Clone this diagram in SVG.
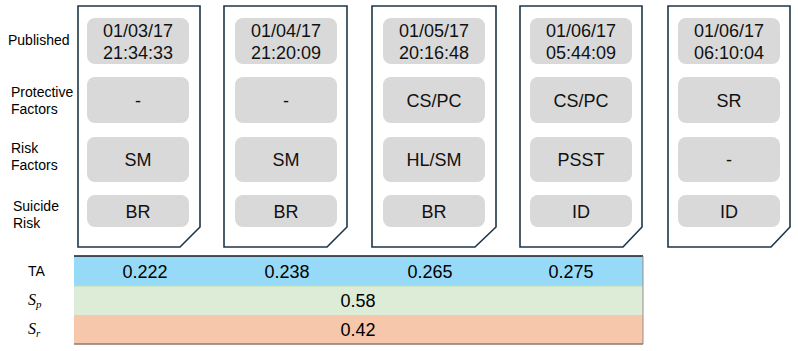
<svg xmlns="http://www.w3.org/2000/svg" width="798" height="351" viewBox="0 0 798 351">
<style>
.card{fill:#fff;stroke:#1e3648;stroke-width:1.6}
.box{fill:#d9d9d9}
.v{font-family:"Liberation Sans",Arial,sans-serif;font-size:18px;fill:#111;text-anchor:middle}
.lab{font-family:"Liberation Sans",Arial,sans-serif;font-size:14px;fill:#000}
.num{font-family:"Liberation Sans",Arial,sans-serif;font-size:18px;fill:#000;text-anchor:middle}
.math{font-family:"Liberation Serif","Times New Roman",serif;font-style:italic;font-size:16px;fill:#000}
</style>
<defs>
<g id="rows">
<rect class="box" x="0" y="18" width="102" height="46" rx="8"/>
<rect class="box" x="0" y="77" width="102" height="46" rx="8"/>
<rect class="box" x="0" y="137" width="102" height="45" rx="8"/>
<rect class="box" x="0" y="195" width="102" height="32" rx="8"/>
</g>
</defs>
<g id="labels">
<text class="lab" x="8" y="45">Published</text>
<text class="lab" x="11" y="97">Protective</text>
<text class="lab" x="11" y="114">Factors</text>
<text class="lab" x="11" y="153">Risk</text>
<text class="lab" x="11" y="170">Factors</text>
<text class="lab" x="13" y="211">Suicide</text>
<text class="lab" x="13" y="228">Risk</text>
</g>
<g id="card1">
<path class="card" d="M78,6 H200 V227 L180,247 H78 Z"/>
<use href="#rows" x="87"/>
<text class="v" x="138" y="37">01/03/17</text>
<text class="v" x="138" y="59">21:34:33</text>
<text class="v" x="138" y="107">-</text>
<text class="v" x="138" y="166">SM</text>
<text class="v" x="138" y="218">BR</text>
</g>
<g id="card2">
<path class="card" d="M224,6 H347 V227 L327,247 H224 Z"/>
<use href="#rows" x="235"/>
<text class="v" x="286" y="37">01/04/17</text>
<text class="v" x="286" y="59">21:20:09</text>
<text class="v" x="286" y="107">-</text>
<text class="v" x="286" y="166">SM</text>
<text class="v" x="286" y="218">BR</text>
</g>
<g id="card3">
<path class="card" d="M372,6 H496 V227 L475,247 H372 Z"/>
<use href="#rows" x="383"/>
<text class="v" x="434" y="37">01/05/17</text>
<text class="v" x="434" y="59">20:16:48</text>
<text class="v" x="434" y="107">CS/PC</text>
<text class="v" x="434" y="166">HL/SM</text>
<text class="v" x="434" y="218">BR</text>
</g>
<g id="card4">
<path class="card" d="M520,6 H642 V227 L623,247 H520 Z"/>
<use href="#rows" x="530"/>
<text class="v" x="581" y="37">01/06/17</text>
<text class="v" x="581" y="59">05:44:09</text>
<text class="v" x="581" y="107">CS/PC</text>
<text class="v" x="581" y="166">PSST</text>
<text class="v" x="581" y="218">ID</text>
</g>
<g id="card5">
<path class="card" d="M668,6 H790 V227 L771,247 H668 Z"/>
<use href="#rows" x="678"/>
<text class="v" x="729" y="37">01/06/17</text>
<text class="v" x="729" y="59">06:10:04</text>
<text class="v" x="729" y="107">SR</text>
<text class="v" x="729" y="166">-</text>
<text class="v" x="729" y="218">ID</text>
</g>
<g id="table">
<rect x="74" y="256" width="569" height="30" fill="#97daf7"/>
<rect x="74" y="286" width="569" height="29" fill="#dcecd6"/>
<rect x="74" y="315" width="569" height="29" fill="#f6c7ab"/>
<line x1="74" y1="256" x2="643" y2="256" stroke="#1a1a1a" stroke-width="1.5"/>
<line x1="74" y1="286" x2="643" y2="286" stroke="#b8dcb0" stroke-width="1"/>
<line x1="643" y1="256" x2="643" y2="344" stroke="#9a8c84" stroke-width="1"/>
<line x1="74" y1="344" x2="643" y2="344" stroke="#8a7b72" stroke-width="1.5"/>
<text class="lab" x="28" y="276">TA</text>
<text class="math" x="28" y="305">S<tspan font-size="11" dy="3">p</tspan></text>
<text class="math" x="28" y="334">S<tspan font-size="11" dy="3">r</tspan></text>
<text class="num" x="145" y="278">0.222</text>
<text class="num" x="287" y="278">0.238</text>
<text class="num" x="430" y="278">0.265</text>
<text class="num" x="571" y="278">0.275</text>
<text class="num" x="358" y="307">0.58</text>
<text class="num" x="358" y="336">0.42</text>
</g>
</svg>
